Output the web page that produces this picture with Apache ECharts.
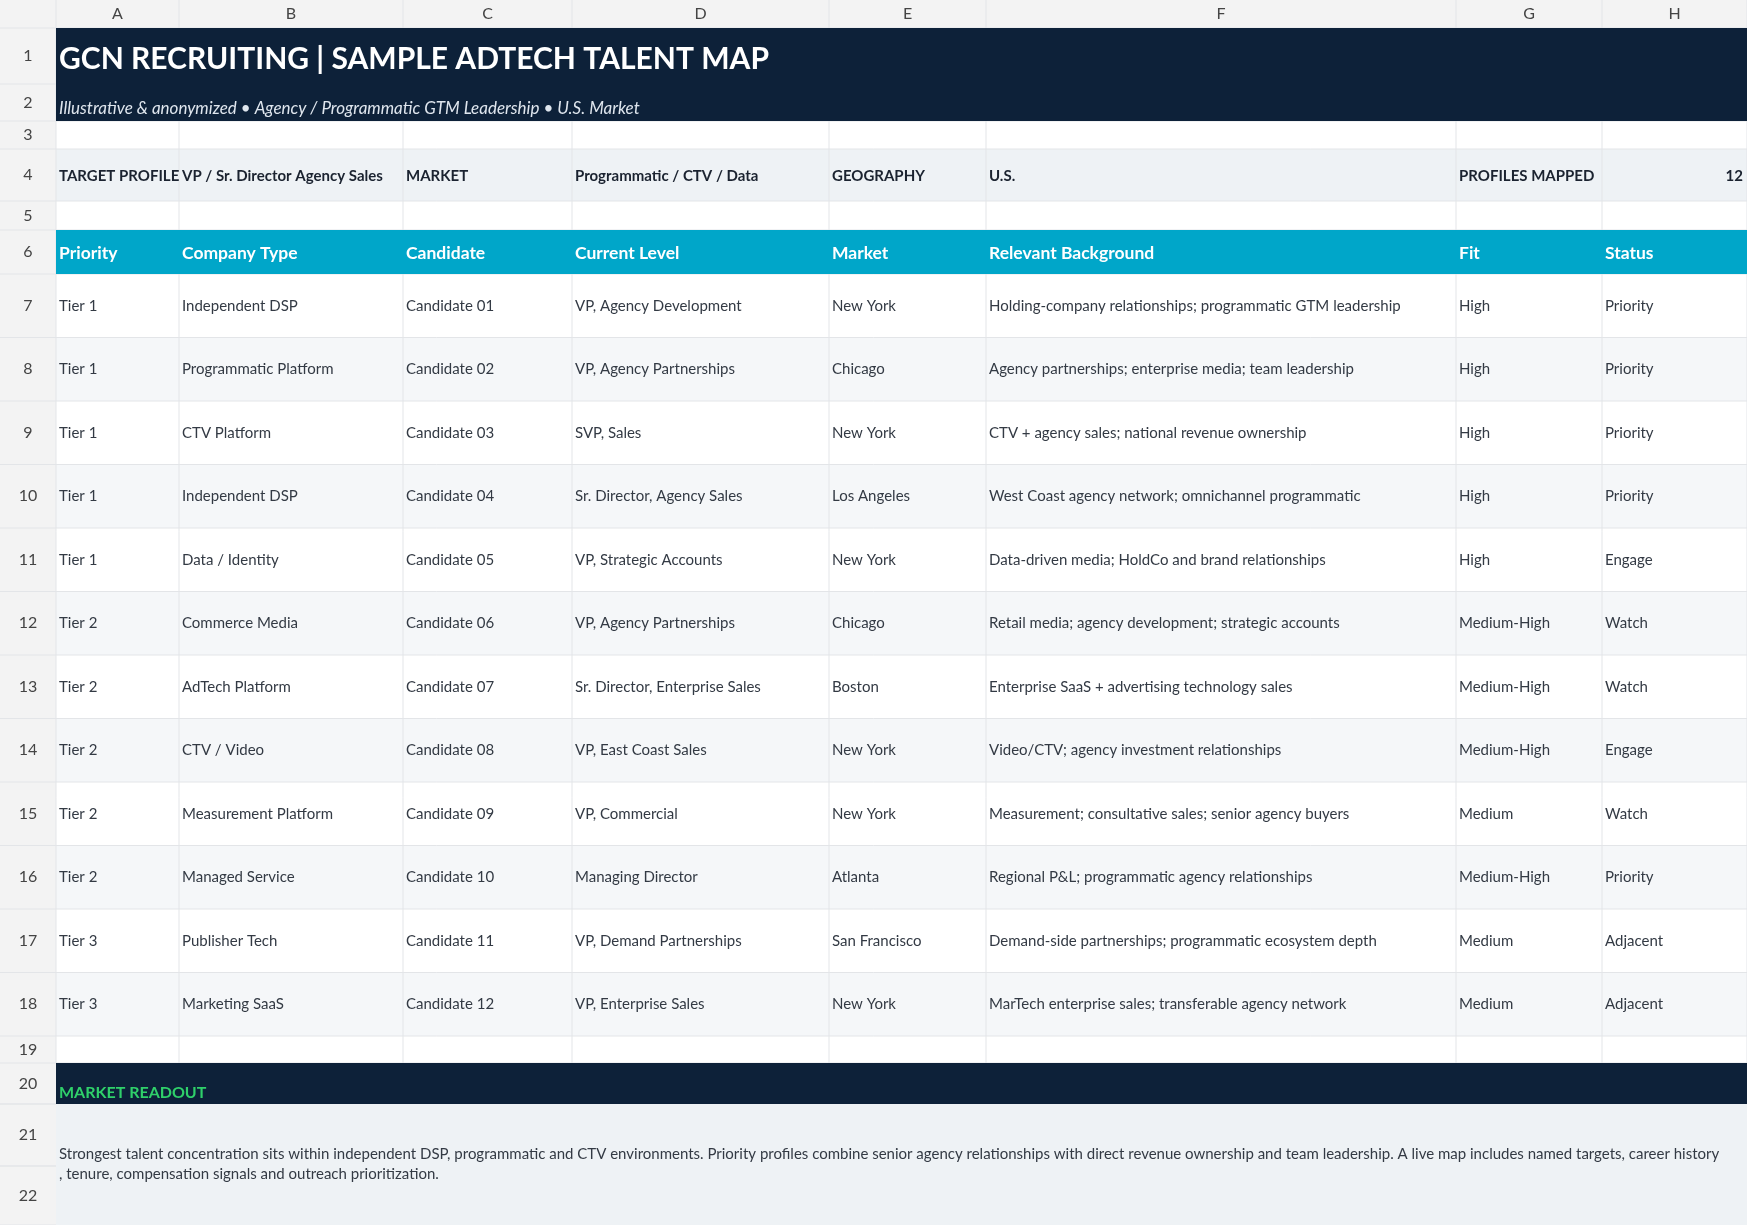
<!DOCTYPE html>
<html><head><meta charset="utf-8">
<script src="https://cdn.jsdelivr.net/npm/echarts@6/dist/echarts.min.js"></script>
<style>html,body{margin:0;padding:0;background:#fff}#c{width:1747px;height:1225px}</style>
</head><body><div id="c"></div>
<script>
const colLetters = ['A','B','C','D','E','F','G','H'];
const title = 'GCN RECRUITING | SAMPLE ADTECH TALENT MAP';
const subtitle = 'Illustrative & anonymized \u2022 Agency / Programmatic GTM Leadership \u2022 U.S. Market';
const profileRow = ['TARGET PROFILE','VP / Sr. Director Agency Sales','MARKET','Programmatic / CTV / Data','GEOGRAPHY','U.S.','PROFILES MAPPED','12'];
const headers = ['Priority','Company Type','Candidate','Current Level','Market','Relevant Background','Fit','Status'];
const priority = ['Tier 1','Tier 1','Tier 1','Tier 1','Tier 1','Tier 2','Tier 2','Tier 2','Tier 2','Tier 2','Tier 3','Tier 3'];
const companyType = ['Independent DSP','Programmatic Platform','CTV Platform','Independent DSP','Data / Identity','Commerce Media','AdTech Platform','CTV / Video','Measurement Platform','Managed Service','Publisher Tech','Marketing SaaS'];
const candidate = ['Candidate 01','Candidate 02','Candidate 03','Candidate 04','Candidate 05','Candidate 06','Candidate 07','Candidate 08','Candidate 09','Candidate 10','Candidate 11','Candidate 12'];
const level = ['VP, Agency Development','VP, Agency Partnerships','SVP, Sales','Sr. Director, Agency Sales','VP, Strategic Accounts','VP, Agency Partnerships','Sr. Director, Enterprise Sales','VP, East Coast Sales','VP, Commercial','Managing Director','VP, Demand Partnerships','VP, Enterprise Sales'];
const market = ['New York','Chicago','New York','Los Angeles','New York','Chicago','Boston','New York','New York','Atlanta','San Francisco','New York'];
const background = ['Holding-company relationships; programmatic GTM leadership','Agency partnerships; enterprise media; team leadership','CTV + agency sales; national revenue ownership','West Coast agency network; omnichannel programmatic','Data-driven media; HoldCo and brand relationships','Retail media; agency development; strategic accounts','Enterprise SaaS + advertising technology sales','Video/CTV; agency investment relationships','Measurement; consultative sales; senior agency buyers','Regional P&L; programmatic agency relationships','Demand-side partnerships; programmatic ecosystem depth','MarTech enterprise sales; transferable agency network'];
const fit = ['High','High','High','High','High','Medium-High','Medium-High','Medium-High','Medium','Medium-High','Medium','Medium'];
const status = ['Priority','Priority','Priority','Priority','Engage','Watch','Watch','Engage','Watch','Priority','Adjacent','Adjacent'];
const readoutTitle = 'MARKET READOUT';
const readoutText = 'Strongest talent concentration sits within independent DSP, programmatic and CTV environments. Priority profiles combine senior agency relationships with direct revenue ownership and team leadership. A live map includes named targets, career history, tenure, compensation signals and outreach prioritization.';

// layout
const colX = [56,179,403,572,829,986,1456,1602,1747];
const rowY = [28,84,121,149,201,230,274];
for (let i=0;i<12;i++) rowY.push(274+(i+1)*63.5);
rowY.push(1063,1104,1166,1225);
const W=1747, F='Lato, "Noto Sans", sans-serif';
const NAVY='#0d2139', TEAL='#00a6c9', GRID='#e3e5e8', TXT='#333a44';
const g=[];
const rect=(x,y,w,h,fill,z)=>g.push({type:'rect',shape:{x,y,width:w,height:h},style:{fill},z:z||0,silent:true});
const line=(x1,y1,x2,y2,c,z)=>g.push({type:'line',shape:{x1,y1,x2,y2},style:{stroke:c||GRID,lineWidth:1},z:z||1,silent:true});
const text=(x,y,t,o)=>g.push({type:'text',x,y,z:5,silent:true,style:Object.assign({text:t,font:'15px '+F,fill:TXT,textVerticalAlign:'middle',textAlign:'left'},o||{})});
const rowTop=r=>rowY[r-1], rowBot=r=>rowY[r], rowMid=r=>(rowY[r-1]+rowY[r])/2;

rect(0,0,W,1225,'#ffffff');
// header bar
rect(0,0,W,28,'#f3f3f3');
rect(0,0,56,1225,'#f3f3f3');
// row backgrounds
rect(56,rowTop(1),W-56,rowBot(2)-rowTop(1),NAVY,2);
rect(56,rowTop(4),W-56,rowBot(4)-rowTop(4),'#eef2f5');
rect(56,rowTop(6),W-56,rowBot(6)-rowTop(6),TEAL,2);
for (let i=0;i<12;i++){ const r=7+i; if(i%2===1) rect(56,rowTop(r),W-56,rowBot(r)-rowTop(r),'#f5f7f9'); }
rect(56,rowTop(20),W-56,rowBot(20)-rowTop(20),NAVY,2);
rect(56,rowTop(21),W-56,rowBot(22)-rowTop(21),'#eef2f5',2);
// grid lines
for (let k=0;k<colX.length;k++) line(colX[k],0,colX[k],rowTop(20),GRID);
for (let k=0;k<rowY.length;k++) line(0,rowY[k],W,rowY[k],GRID);
line(0,rowTop(21),56,rowTop(21)); line(0,rowTop(22),56,rowTop(22));
// column letters & row numbers
colLetters.forEach((c,i)=>text((colX[i]+colX[i+1])/2,14,c,{textAlign:'center',font:'16px '+F,fill:'#444'}));
for (let r=1;r<=22;r++) text(28,rowMid(r),String(r),{textAlign:'center',font:'16px '+F,fill:'#444'});
// title
text(59,59,title,{font:'bold 30px '+F,fill:'#ffffff'});
text(59,109,subtitle,{font:'italic 17px '+F,fill:'#dfe6ee'});
// profile row
profileRow.forEach((t,i)=>{
  if(i===7) text(colX[8]-4,176,t,{font:'bold 15px '+F,fill:'#1b2330',textAlign:'right'});
  else text(colX[i]+3,176,t,{font:'bold 15px '+F,fill:'#1b2330'});
});
headers.forEach((t,i)=>text(colX[i]+3,253,t,{font:'bold 17.5px '+F,fill:'#ffffff'}));
const cols=[priority,companyType,candidate,level,market,background,fit,status];
for (let i=0;i<12;i++){ cols.forEach((arr,c)=>text(colX[c]+3,rowMid(7+i),arr[i],{})); }
text(59,1093,readoutTitle,{font:'bold 16px '+F,fill:'#2fd06a'});
g.push({type:'text',x:59,y:1144,z:5,silent:true,style:{text:readoutText,font:'15px '+F,fill:TXT,width:1670,overflow:'break',lineHeight:20,textVerticalAlign:'top'}});

const chart=echarts.init(document.getElementById('c'));
chart.setOption({animation:false,graphic:{elements:g}});
</script></body></html>
